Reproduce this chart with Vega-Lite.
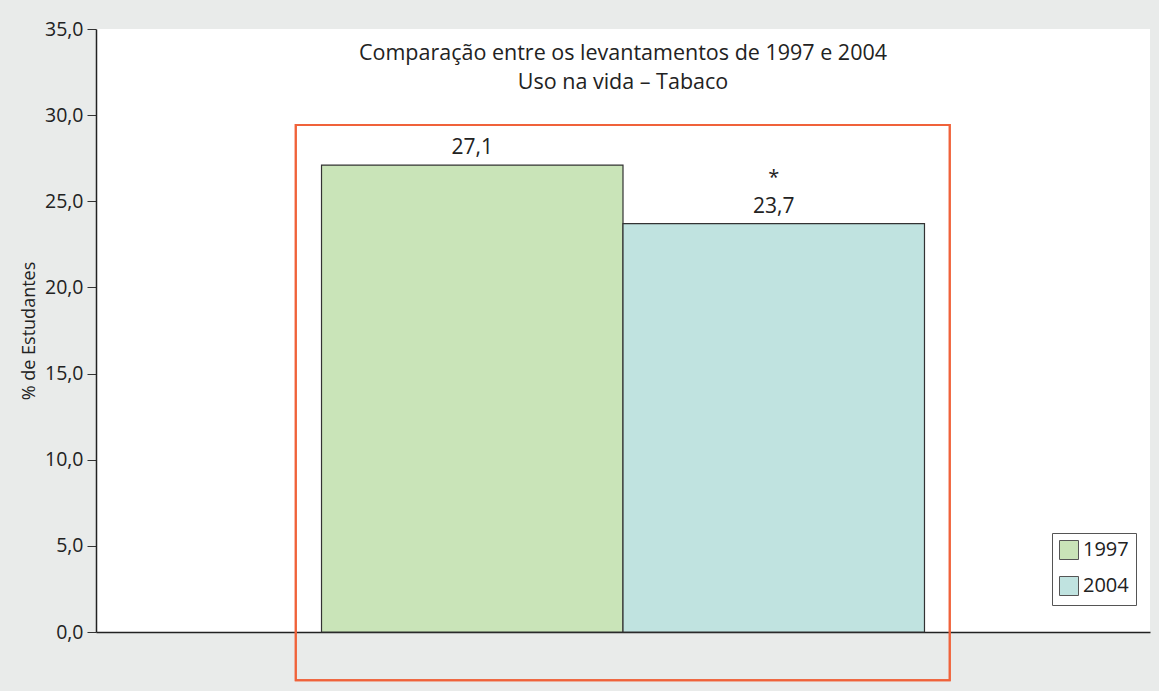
{
  "$schema": "https://vega.github.io/schema/vega-lite/v6.json",
  "autosize": {"type": "none"},
  "width": 1054,
  "height": 603,
  "padding": {"left": 96, "top": 29, "right": 9, "bottom": 59},
  "background": "#e9ebea",
  "title": {
    "text": "Comparação entre os levantamentos de 1997 e 2004",
    "subtitle": "Uso na vida – Tabaco",
    "anchor": "middle",
    "frame": "group",
    "offset": -74,
    "font": "Open Sans",
    "fontSize": 21.5,
    "fontWeight": "normal",
    "color": "#222222",
    "subtitleFont": "Open Sans",
    "subtitleFontSize": 21.5,
    "subtitleColor": "#222222",
    "subtitlePadding": 7
  },
  "data": {
    "values": [
      {"ano": "1997", "pct": 27.1, "sig": ""},
      {"ano": "2004", "pct": 23.7, "sig": "*"}
    ]
  },
  "encoding": {
    "x": {
      "field": "ano",
      "type": "nominal",
      "scale": {"domain": ["1997", "2004"], "paddingInner": 0, "paddingOuter": 0.748},
      "axis": {"labels": false, "ticks": false, "title": null, "domainColor": "#222222", "domainWidth": 1.5}
    },
    "y": {
      "field": "pct",
      "type": "quantitative",
      "scale": {"domain": [0, 35], "nice": false},
      "axis": {
        "values": [0, 5, 10, 15, 20, 25, 30, 35],
        "format": ".1f",
        "grid": false,
        "tickSize": 9,
        "tickColor": "#333333",
        "labelPadding": 4,
        "labelFont": "Open Sans",
        "labelFontSize": 19.5,
        "labelColor": "#222222",
        "domainColor": "#222222",
        "domainWidth": 1.5,
        "title": "% de Estudantes",
        "titleFont": "Liberation Sans Narrow, Open Sans",
        "titleFontSize": 18,
        "titleFontWeight": "normal",
        "titleColor": "#222222",
        "titlePadding": 6
      }
    }
  },
  "layer": [
    {
      "mark": {"type": "bar", "stroke": "#333333", "strokeWidth": 1.2},
      "encoding": {
        "color": {
          "field": "ano",
          "type": "nominal",
          "scale": {"domain": ["1997", "2004"], "range": ["#c9e4b8", "#c0e3e0"]},
          "legend": {
            "orient": "none",
            "legendX": 956,
            "legendY": 504,
            "title": null,
            "strokeColor": "#555555",
            "fillColor": "#ffffff",
            "padding": 7,
            "symbolType": "square",
            "symbolSize": 361,
            "symbolStrokeColor": "#555555",
            "symbolStrokeWidth": 1,
            "symbolOpacity": 1,
            "labelFont": "Open Sans",
            "labelFontSize": 20,
            "labelColor": "#222222",
            "labelOffset": 4,
            "rowPadding": 12
          }
        }
      }
    },
    {
      "mark": {"type": "text", "baseline": "alphabetic", "dy": -11, "font": "Open Sans", "fontSize": 21, "color": "#222222"},
      "encoding": {"text": {"field": "pct", "type": "quantitative", "format": ".1f"}}
    },
    {
      "mark": {"type": "text", "baseline": "alphabetic", "dy": -40, "font": "Open Sans", "fontSize": 20, "color": "#222222"},
      "encoding": {"text": {"field": "sig", "type": "nominal"}}
    },
    {
      "mark": {"type": "rect", "fill": null, "fillOpacity": 0, "stroke": "#f0623a", "strokeWidth": 2, "xOffset": -176.5, "x2Offset": 176},
      "encoding": {
        "x": {"datum": "1997"},
        "x2": {"datum": "2004"},
        "y": {"datum": 29.43},
        "y2": {"datum": -2.8}
      }
    }
  ],
  "config": {
    "locale": {
      "number": {"decimal": ",", "thousands": ".", "grouping": [3], "currency": ["R$", ""]}
    },
    "view": {"fill": "#ffffff", "stroke": null}
  }
}
